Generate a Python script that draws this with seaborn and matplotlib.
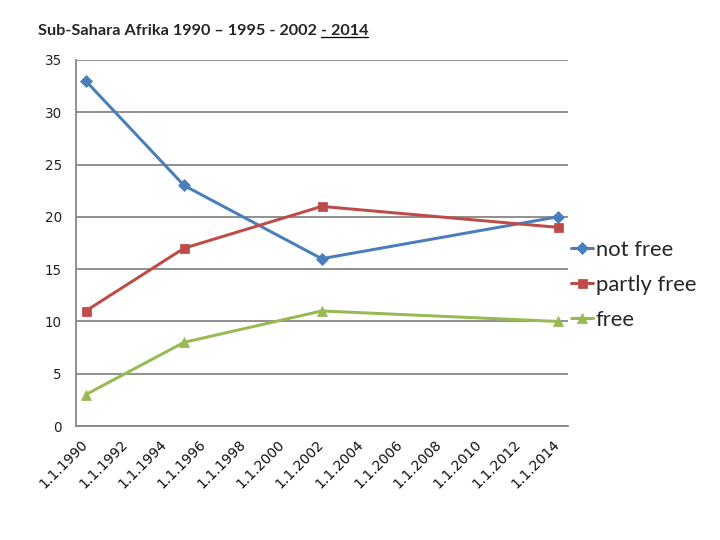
import pandas as pd
import matplotlib
matplotlib.use('Agg')
import matplotlib.pyplot as plt
import seaborn as sns

# daten
jahre = [1990, 1995, 2002, 2014]
not_free = [33, 23, 16, 20]
partly_free = [11, 17, 21, 19]
free = [3, 8, 11, 10]
tick_jahre = list(range(1990, 2015, 2))

df = pd.DataFrame({
    'datum': pd.to_datetime([f'{j}-07-01' for j in jahre]),
    'not free': not_free,
    'partly free': partly_free,
    'free': free,
})

sns.set_style('white')
plt.rcParams['font.family'] = ['DejaVu Sans']

fig = plt.figure(figsize=(10, 7.5), dpi=72)
ax = fig.add_axes([76 / 720, 1 - 426 / 540, (567.5 - 76) / 720, (426 - 60) / 540])

serien = [('not free', '#4A7EBB', 'D', 9), ('partly free', '#BE4B48', 's', 9), ('free', '#98B954', '^', 10)]
for name, farbe, marker, ms in serien:
    sns.lineplot(data=df, x='datum', y=name, ax=ax, color=farbe, marker=marker,
                 markersize=ms, markeredgecolor=farbe, linewidth=3, label=name)

grau = '#868686'
ax.set_ylim(0, 35)
ax.set_yticks(range(0, 36, 5))
ax.yaxis.grid(True, color=grau, linewidth=1.8)
ax.set_axisbelow(True)
ax.set_xlim(pd.Timestamp('1990-01-01'), pd.Timestamp('2015-01-01'))
tick_daten = [pd.Timestamp(f'{j}-01-01') for j in tick_jahre]
ax.set_xticks(tick_daten)
ax.set_xticklabels([])
# gedrehte datumsbeschriftung, rechts vom tick versetzt wie in excel
for d, j in zip(tick_daten, tick_jahre):
    ax.annotate(f'1.1.{j}', xy=(d, 0), xycoords=('data', 'axes fraction'),
                xytext=(10, -16), textcoords='offset points', rotation=45,
                ha='right', va='center', rotation_mode='anchor', fontsize=14,
                color='#111111', annotation_clip=False)
ax.tick_params(axis='y', labelsize=13.5, length=6, color=grau, width=1.8, pad=8, labelcolor='#222222')
ax.tick_params(axis='x', length=5, color=grau, width=1.8, pad=3)
ax.set_xlabel('')
ax.set_ylabel('')
for s in ['top', 'right']:
    ax.spines[s].set_visible(False)
for s in ['left', 'bottom']:
    ax.spines[s].set_color(grau)
    ax.spines[s].set_linewidth(1.8)

ax.legend(loc='center left', bbox_to_anchor=(0.99, 0.385), frameon=False,
          prop={'family': 'Lato', 'size': 22}, handlelength=1.0, handletextpad=0.1,
          labelspacing=0.68, borderaxespad=0)

# titel mit unterstrichenem teil
t1 = fig.text(38 / 720, 1 - 31 / 540, 'Sub-Sahara Afrika 1990 \u2013 1995 - 2002 ',
              fontsize=16.2, fontweight='bold', family='Lato', va='center')
fig.canvas.draw()
bb = t1.get_window_extent()
x2 = bb.x1 / fig.bbox.width
t2 = fig.text(x2, 1 - 31 / 540, '- 2014', fontsize=16.2, fontweight='bold', family='Lato', va='center')
fig.canvas.draw()
bb2 = t2.get_window_extent()
y_line = (bb2.y0 + 1) / fig.bbox.height
fig.add_artist(plt.Line2D([bb2.x0 / fig.bbox.width, bb2.x1 / fig.bbox.width], [y_line, y_line],
                          color='black', linewidth=1.3, transform=fig.transFigure))

fig.savefig('out.png', dpi=72)
